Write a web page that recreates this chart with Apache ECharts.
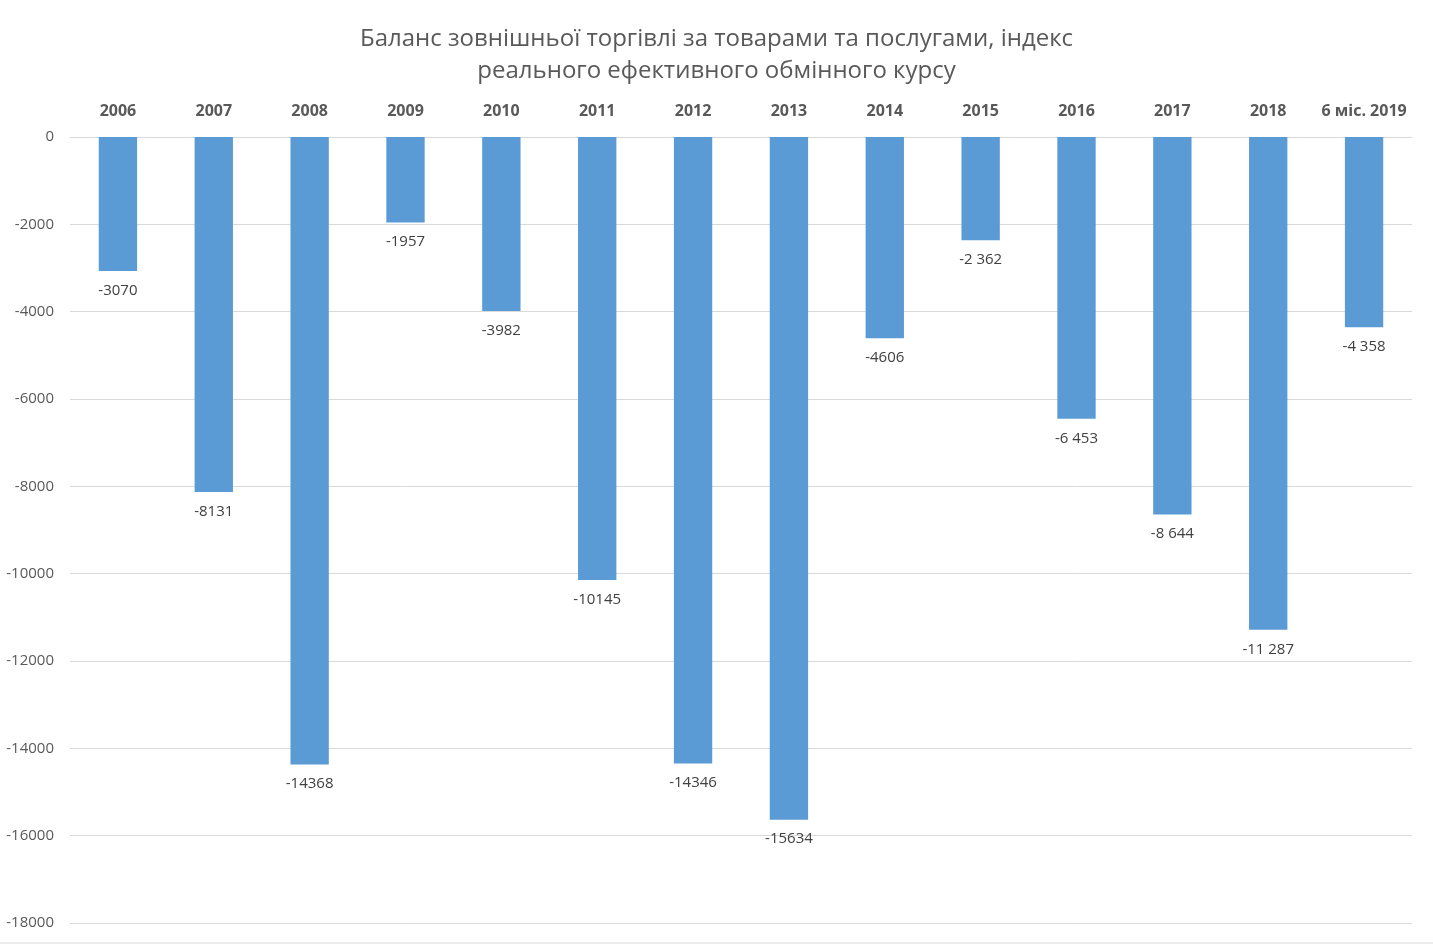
<!DOCTYPE html>
<html><head><meta charset="utf-8">
<script src="https://cdn.jsdelivr.net/npm/echarts@6/dist/echarts.min.js"></script>
<style>html,body{margin:0;padding:0;background:#fff}#c{width:1433px;height:945px}</style>
</head><body><div id="c"></div>
<script>
const categories = ['2006','2007','2008','2009','2010','2011','2012','2013','2014','2015','2016','2017','2018','6 міс. 2019'];
const values = [-3070,-8131,-14368,-1957,-3982,-10145,-14346,-15634,-4606,-2362,-6453,-8644,-11287,-4358];
const valueLabels = ['-3070','-8131','-14368','-1957','-3982','-10145','-14346','-15634','-4606','-2 362','-6 453','-8 644','-11 287','-4 358'];
const titleText = 'Баланс зовнішньої торгівлі за товарами та послугами, індекс\nреального ефективного обмінного курсу';

const chart = echarts.init(document.getElementById('c'));
const F = 'Open Sans, Noto Sans, sans-serif';
chart.setOption({
  animation:false,
  backgroundColor:'#fff',
  title:{text:titleText,left:'center',top:18,textStyle:{fontFamily:F,fontSize:24,fontWeight:'normal',color:'#595959',lineHeight:32}},
  grid:{left:70,right:21,top:137,bottom:22,containLabel:false},
  xAxis:{type:'category',data:categories,position:'top',
    axisLine:{show:true,lineStyle:{color:'#d9d9d9',width:1}},axisTick:{show:false},
    axisLabel:{fontFamily:F,fontSize:16,fontWeight:'bold',color:'#595959',margin:18,interval:0}},
  yAxis:{type:'value',min:-18000,max:0,interval:2000,
    axisLine:{show:false},axisTick:{show:false},
    splitLine:{lineStyle:{color:'#d9d9d9',width:1}},
    axisLabel:{fontFamily:F,fontSize:15,color:'#595959',margin:16,formatter:v=>String(v)}},
  graphic:[{type:'line',shape:{x1:0,y1:943,x2:1433,y2:943},style:{stroke:'#d9d9d9',lineWidth:1}}],
  series:[{type:'bar',data:values,barWidth:'40%',itemStyle:{color:'#5b9bd5'},
    label:{show:true,position:'bottom',distance:12,fontFamily:F,fontSize:15,color:'#404040',
      formatter:p=>valueLabels[p.dataIndex]}}]
});
</script></body></html>
